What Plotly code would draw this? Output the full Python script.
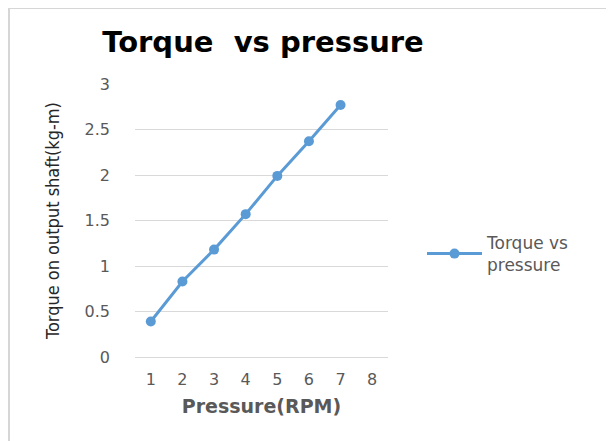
import plotly.graph_objects as go

# values
pressure = [1, 2, 3, 4, 5, 6, 7]
torque = [0.39, 0.83, 1.18, 1.57, 1.99, 2.37, 2.77]
x_categories = ["1", "2", "3", "4", "5", "6", "7", "8"]
y_ticks = [0, 0.5, 1, 1.5, 2, 2.5, 3]
y_tick_labels = ["0", "0.5", "1", "1.5", "2", "2.5", "3"]

LINE_BLUE = "#5B9BD5"
GRID = "#D9D9D9"
TEXT_GRAY = "#595959"

# the page body adds an 8px margin, so the figure is a bit smaller
W, H = 606, 433
L, R, T, B = 127, 226, 76, 84
pw, ph = W - L - R, H - T - B


def px_x(v):
    return (v - L) / pw


def px_y(v):
    return (H - B - v) / ph


fig = go.Figure()
fig.add_trace(
    go.Scatter(
        x=[str(p) for p in pressure],
        y=torque,
        mode="lines+markers",
        name="Torque vs<br>pressure",
        line=dict(color=LINE_BLUE, width=3),
        marker=dict(color=LINE_BLUE, size=10),
    )
)

# only the top and left edges of the chart frame are visible
frame = dict(color="#D6D6D6", width=2)
fig.update_layout(
    width=W,
    height=H,
    margin=dict(l=L, r=R, t=T, b=B),
    paper_bgcolor="white",
    plot_bgcolor="white",
    font=dict(family="DejaVu Sans", color=TEXT_GRAY, size=13),
    title=dict(
        text="<b>Torque  vs pressure</b>",
        font=dict(family="DejaVu Sans", size=29, color="black"),
        x=255 / W,
        xanchor="center",
        y=1 - 34 / H,
        yanchor="middle",
    ),
    showlegend=True,
    legend=dict(
        x=px_x(414),
        xanchor="left",
        y=px_y(246),
        yanchor="middle",
        itemwidth=55,
        font=dict(size=17, color=TEXT_GRAY),
        bgcolor="rgba(0,0,0,0)",
    ),
    shapes=[
        dict(type="line", xref="paper", yref="paper",
             x0=px_x(1), x1=px_x(W), y0=px_y(0), y1=px_y(0), line=frame),
        dict(type="line", xref="paper", yref="paper",
             x0=px_x(1), x1=px_x(1), y0=px_y(0), y1=px_y(H), line=frame),
    ],
)

fig.update_xaxes(
    type="category",
    categoryorder="array",
    categoryarray=x_categories,
    range=[-0.5, len(x_categories) - 0.5],
    showgrid=False,
    showline=False,
    zeroline=False,
    ticks="",
    ticklabelstandoff=11,
    tickfont=dict(size=16, color=TEXT_GRAY),
    title=dict(
        text="<b>Pressure(RPM)</b>",
        font=dict(size=19, color=TEXT_GRAY),
        standoff=11,
    ),
)

fig.update_yaxes(
    range=[0, 3],
    tickvals=y_ticks,
    ticktext=y_tick_labels,
    showgrid=True,
    gridcolor=GRID,
    gridwidth=1,
    zeroline=True,
    zerolinecolor=GRID,
    zerolinewidth=1,
    showline=False,
    ticks="",
    ticklabelstandoff=24,
    tickfont=dict(size=16, color=TEXT_GRAY),
    title=dict(
        text="Torque on output shaft(kg-m)",
        font=dict(family="DejaVu Sans Condensed, DejaVu Sans", size=18, color="#262626"),
        standoff=20,
    ),
)

fig.write_html("out.html")
